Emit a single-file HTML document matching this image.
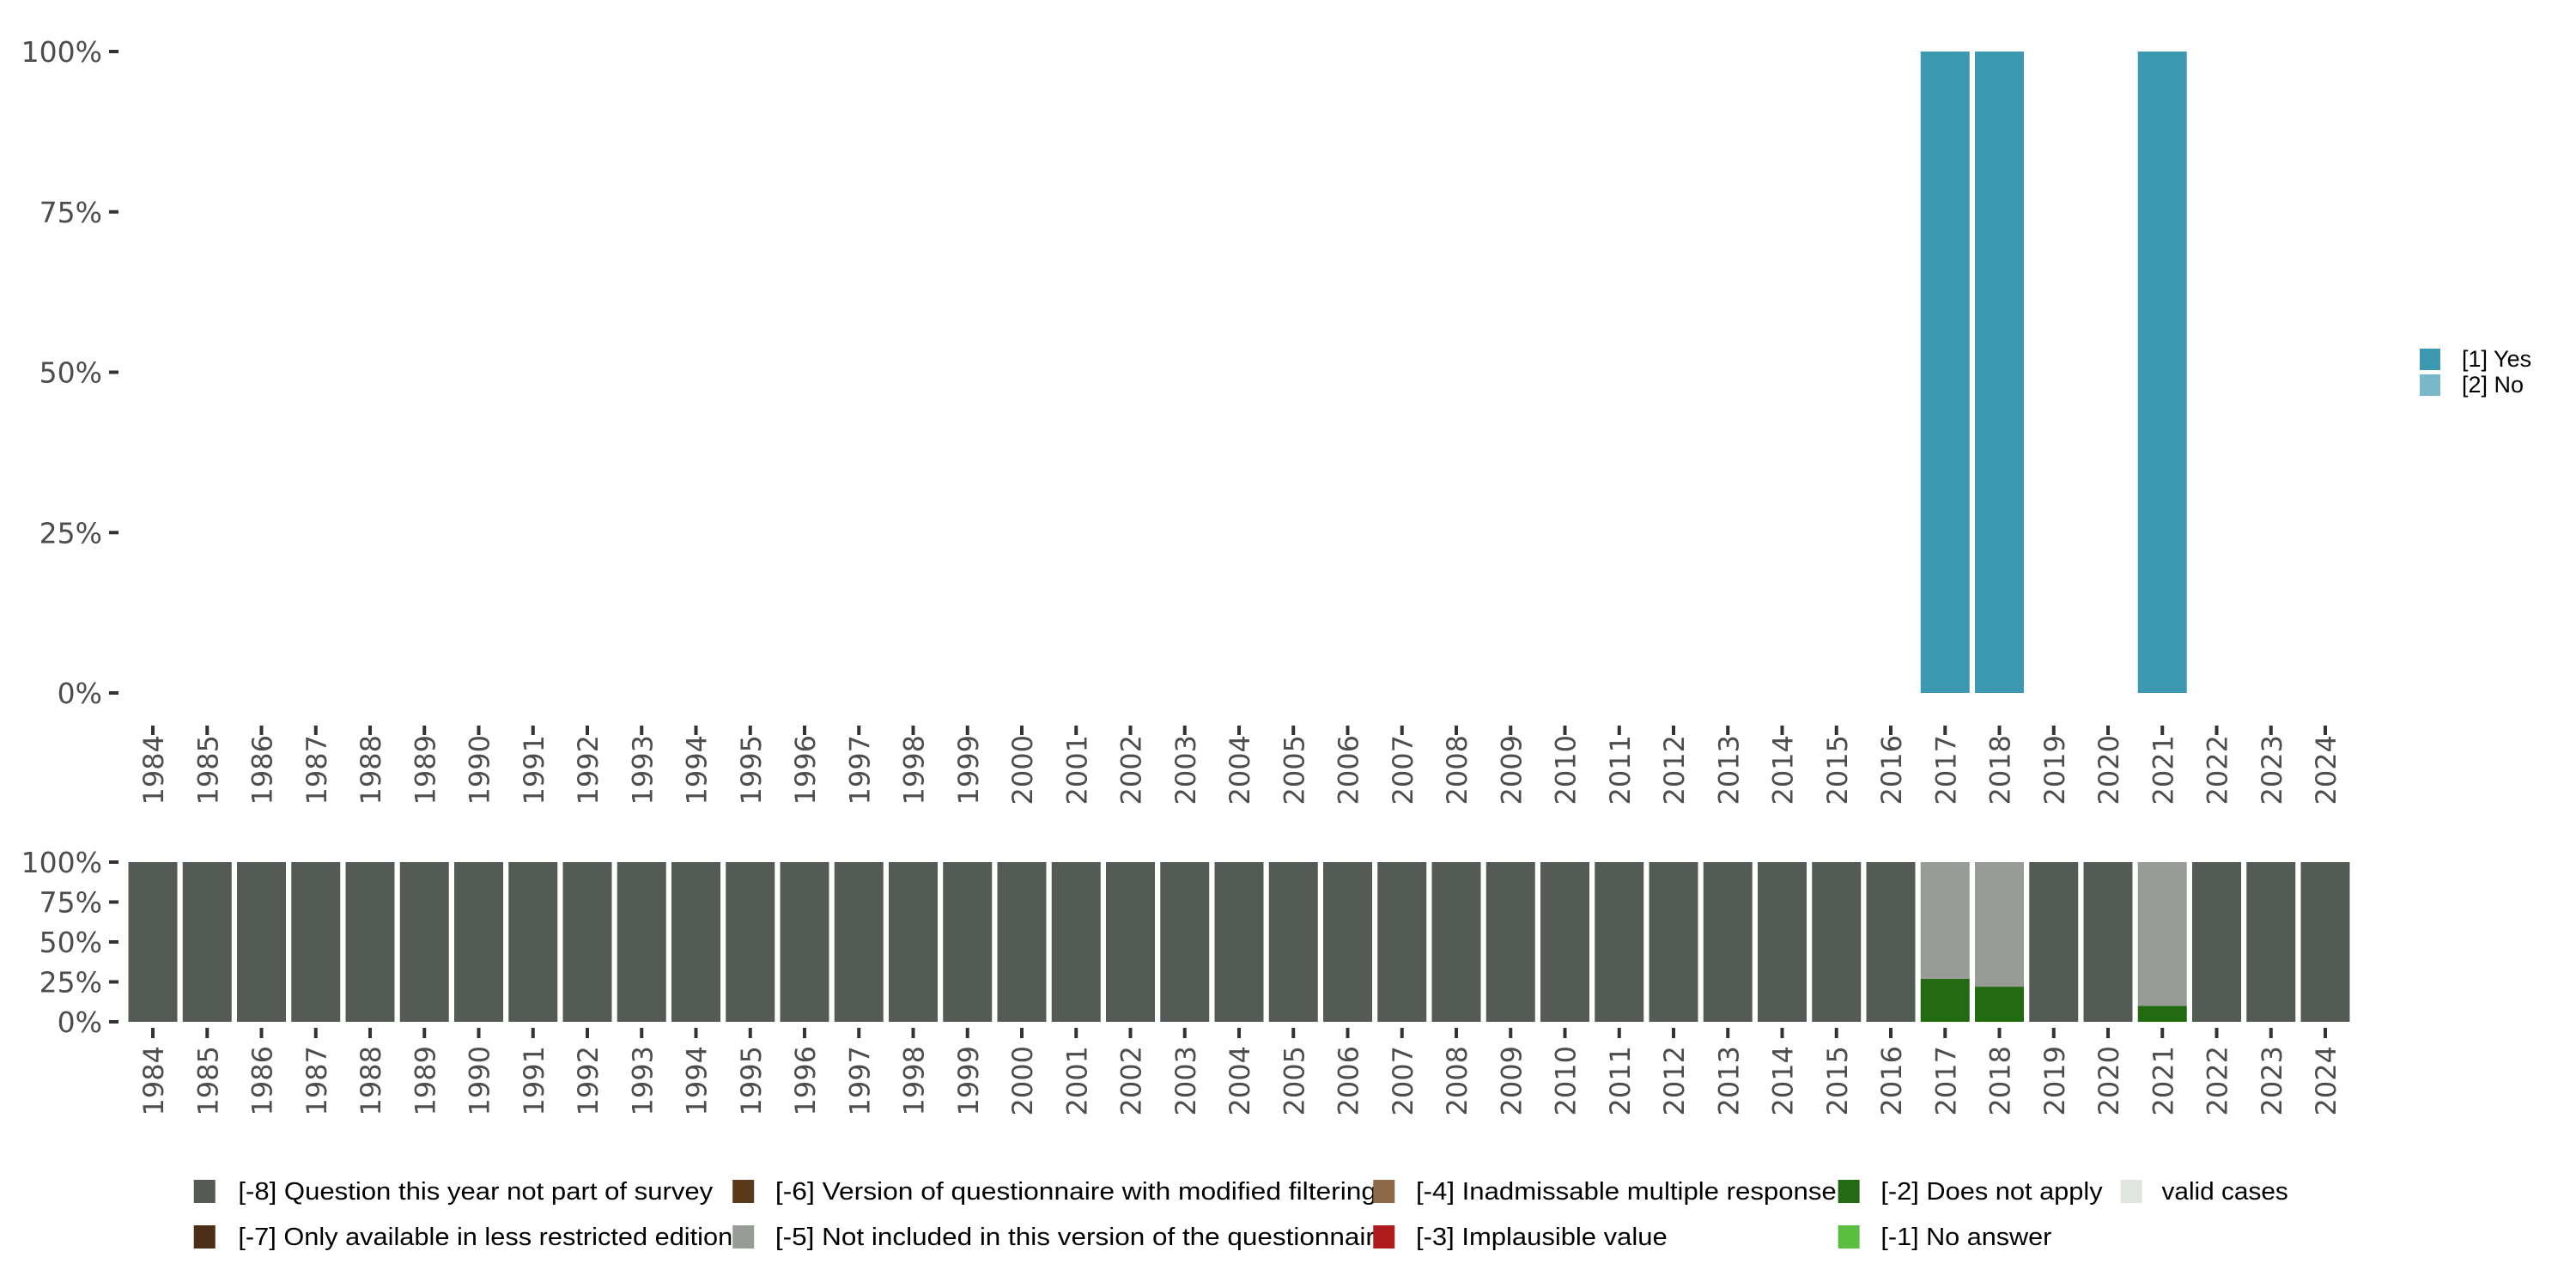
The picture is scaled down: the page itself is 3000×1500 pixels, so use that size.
<!DOCTYPE html>
<html><head><meta charset="utf-8"><style>
html,body{margin:0;padding:0;background:#fff;}
svg{display:block;font-family:"Liberation Sans",sans-serif;}
</style></head><body>
<svg id="chart" width="3000" height="1500" viewBox="0 0 3000 1500" xmlns="http://www.w3.org/2000/svg">
<g id="topPanel"></g>
<g id="bottomPanel"></g>
<g id="legends"></g>
</svg>
<script>
const years = [];
for (let y = 1984; y <= 2024; y++) years.push(String(y));
const yesValues = {"2017":100,"2018":100,"2021":100};
const noValues = {};
const doesNotApply = {"2017":27,"2018":22,"2021":10};
const notIncluded = {"2017":73,"2018":78,"2021":90};
const notInSurvey = {};
years.forEach(y => { if (!(y in notIncluded)) notInSurvey[y] = 100; });
const yTicks = [0,25,50,75,100];
const yTickLabels = ["0%","25%","50%","75%","100%"];
const topLegend = [["[1] Yes","#3c99b1"],["[2] No","#79b8c8"]];
const S = 1.913;
const bottomLegend = [
 ["[-8] Question this year not part of survey","#545b55",118,145,434,0],
 ["[-7] Only available in less restricted edition","#4a2e15",118,145,446,1],
 ["[-6] Version of questionnaire with modified filtering","#5a3a1a",446,472,838,0],
 ["[-5] Not included in this version of the questionnaire","#989c96",446,472,846,1],
 ["[-4] Inadmissable multiple response","#8c6a4a",836,862,1118,0],
 ["[-3] Implausible value","#b01c1c",836,862,1015,1],
 ["[-2] Does not apply","#226b13",1119,1145,1280,0],
 ["[-1] No answer","#5abf40",1119,1145,1249,1],
 ["valid cases","#dfe5df",1291,1316,1393,0]
];
const NS = "http://www.w3.org/2000/svg";
function mk(parent, tag, attrs, text){
  const e = document.createElementNS(NS, tag);
  for (const k in attrs) e.setAttribute(k, attrs[k]);
  if (text !== undefined) e.textContent = text;
  parent.appendChild(e); return e;
}
const step = 63.25, x0 = 178, bw = 57;
function xPos(i){ return x0 + i*step; }
const TICKFONT = '"DejaVu Sans", sans-serif';

function panel(g, yTop, yBot, labelTop, tickY1, tickY2){
  const yScale = v => yBot - (yBot - yTop) * v / 100;
  yTicks.forEach((t,i) => {
    const tk = mk(g,'line',{x1:127,x2:138,y1:yScale(t),y2:yScale(t),stroke:'#333','stroke-width':4});
    
    
    const lb = mk(g,'text',{x:119,y:yScale(t)+12,'text-anchor':'end','font-size':33,'font-family':TICKFONT,fill:'#4d4d4d'},yTickLabels[i]);
    
    
  });
  years.forEach((yr,i) => {
    const x = xPos(i);
    const tk = mk(g,'line',{x1:x,x2:x,y1:tickY1,y2:tickY2,stroke:'#333','stroke-width':4});
    
    
    const lb = mk(g,'text',{x:0,y:0,'text-anchor':'end','font-size':32,'font-family':TICKFONT,fill:'#4d4d4d',transform:`translate(${x+12},${labelTop}) rotate(-90)`},yr);
    
    
  });
  return yScale;
}

const topG = document.getElementById('topPanel');
const ys1 = panel(topG, 60, 807, 856, 845, 856);
years.forEach((yr,i) => {
  let base = 0;
  [[yesValues,'#3c99b1','bar-yes'],[noValues,'#79b8c8','bar-no']].forEach(([arr,c,n]) => {
    const v = arr[yr]; if (!v) return;
    const r = mk(topG,'rect',{x:xPos(i)-bw/2,y:ys1(base+v),width:bw,height:ys1(base)-ys1(base+v),fill:c});
    
    
    base += v;
  });
});

const botG = document.getElementById('bottomPanel');
const ys2 = panel(botG, 1004, 1190, 1218, 1197, 1209);
years.forEach((yr,i) => {
  let base = 0;
  [[doesNotApply,'#226b13','bar-does-not-apply'],[notIncluded,'#989c96','bar-not-included'],[notInSurvey,'#545b55','bar-not-in-survey']].forEach(([arr,c,n]) => {
    const v = arr[yr]; if (!v) return;
    const r = mk(botG,'rect',{x:xPos(i)-bw/2,y:ys2(base+v),width:bw,height:ys2(base)-ys2(base+v),fill:c});
    
    
    base += v;
  });
});

const lg = document.getElementById('legends');
topLegend.forEach((d,i) => {
  const y = 406 + i*30;
  const s = mk(lg,'rect',{x:2818,y:y,width:24,height:25,fill:d[1]});
  
  
  const t = mk(lg,'text',{x:2867,y:y+21,'font-size':27,fill:'#000'},d[0]);
  
  
});
bottomLegend.forEach(d => {
  const cy = d[5] ? 1440 : 1387;
  const s = mk(lg,'rect',{x:d[2]*S,y:cy-13,width:25,height:27,fill:d[1]});
  
  
  const t = mk(lg,'text',{x:d[3]*S,y:cy+10,'font-size':29,fill:'#000',textLength:(d[4]-d[3])*S,lengthAdjust:'spacingAndGlyphs'},d[0]);
  
  
});
</script>
</body></html>
